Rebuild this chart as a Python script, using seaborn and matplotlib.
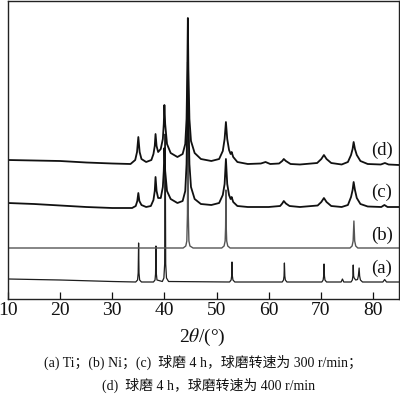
import matplotlib
matplotlib.use("Agg")
import matplotlib.pyplot as plt
import seaborn as sns
import pandas as pd

# ---- data (intensity in arbitrary units) ----
a_x = [10, 20, 30, 34.5, 34.85, 34.97, 35.05, 35.13, 35.25, 35.6, 37.9, 38.2, 38.3, 38.38, 38.46, 38.58,
       39.6, 39.9, 40.05, 40.15, 40.25, 40.4, 40.8, 52.5, 52.8, 52.9, 52.97, 53.04, 53.15, 53.5,
       62.6, 62.85, 62.95, 63.02, 63.1, 63.2, 63.5, 70.2, 70.45, 70.55, 70.62, 70.7, 70.8, 71.1,
       73.9, 74.15, 74.4, 75.8, 76.05, 76.15, 76.22, 76.3, 76.4, 76.7, 77.05, 77.2, 77.35, 77.45,
       77.6, 78.0, 81.9, 82.25, 82.6, 85]
a_y = [20, 19, 17.5, 17, 19, 26, 56, 26, 19, 17, 17, 19, 25, 53, 25, 19,
       17.5, 21, 35, 165, 35, 21, 17.5, 17, 19, 23, 37, 23, 19, 17,
       17, 19, 23, 36, 23, 19, 17, 17, 19, 23, 35, 23, 19, 17,
       17, 20, 17, 17, 19, 23, 34, 23, 21, 19, 19.5, 23, 31, 23,
       19, 17, 17, 19.5, 17, 17]

b_x = [10, 43.6, 44.1, 44.3, 44.42, 44.5, 44.58, 44.7, 44.9, 45.5, 51.0, 51.45, 51.65, 51.74, 51.8,
       51.86, 51.95, 52.15, 52.6, 75.6, 76.0, 76.2, 76.35, 76.5, 76.7, 77.1, 85]
b_y = [51, 51, 53, 58, 85, 184, 85, 58, 53, 51, 51, 53, 58, 72, 109,
       72, 58, 53, 51, 51, 53, 58, 78, 58, 53, 51, 51]

c_x = [10, 15, 20, 25, 30, 33.8, 34.5, 34.8, 35.0, 35.2, 35.6, 36.5, 37.4, 37.9, 38.15, 38.3, 38.5,
       38.8, 39.3, 39.7, 39.88, 40.0, 40.15, 40.5, 41.2, 42.5, 43.5, 44.0, 44.25, 44.4, 44.5, 44.6,
       44.8, 45.1, 45.8, 47, 49, 50.5, 51.2, 51.55, 51.8, 52.05, 52.4, 52.7, 52.9, 53.2, 54, 56, 60,
       62.2, 62.6, 62.9, 63.3, 64, 66, 69.4, 70.1, 70.6, 71.1, 72, 74, 75.2, 75.8, 76.1, 76.3, 76.55,
       76.9, 77.6, 79, 81.6, 82.2, 82.8, 85]
c_y = [96, 95, 93.5, 92, 91, 91, 93, 98, 106, 98, 94, 92, 93, 99, 108, 122, 108,
       101, 101, 112, 128, 151, 128, 108, 100, 96, 98, 108, 135, 185, 237, 185,
       135, 112, 100, 95, 94, 96, 104, 115, 140, 115, 104, 100, 102, 97, 93, 92, 92,
       93, 95.5, 98, 95.5, 93, 92, 93.5, 97, 101, 97, 93, 92, 94, 102, 109, 117, 109,
       101, 95, 92.5, 92, 94, 92, 92]

d_x = [10, 15, 20, 25, 30, 33.5, 34.4, 34.75, 35.0, 35.25, 35.6, 36.5, 37.5, 37.9, 38.15, 38.3, 38.5,
       38.8, 39.3, 39.7, 39.88, 40.0, 40.15, 40.5, 41.2, 42.5, 43.5, 44.0, 44.25, 44.4, 44.5, 44.6,
       44.8, 45.1, 45.8, 47, 49, 50.5, 51.2, 51.55, 51.8, 52.05, 52.4, 52.7, 52.9, 53.2, 54, 56, 58.5,
       59.4, 60.3, 62, 62.6, 62.9, 63.3, 64.2, 66, 69.3, 70.1, 70.6, 71.1, 72, 74, 75.2, 75.8, 76.1,
       76.3, 76.55, 76.9, 77.6, 79, 81.5, 82.3, 83, 85]
d_y = [139, 138.5, 138, 136.5, 135.5, 135, 139, 147, 162, 147, 140, 137, 139, 145, 153, 165, 153,
       147, 150, 160, 175, 194, 175, 155, 146, 142, 145, 155, 180, 230, 281, 230,
       180, 158, 146, 140, 138, 140, 148, 160, 177, 160, 149, 145, 147, 142, 137, 135, 135.5,
       137, 135, 135.5, 138, 140, 138, 135, 134.5, 136, 140, 144, 140, 136, 134.5, 137, 144, 150,
       157, 150, 144, 138, 135, 134.5, 136, 134.5, 134]

curve_labels = ["(a)", "(b)", "(c)", "(d)"]
label_y = [31, 64, 107, 149]
x_ticks = [10, 20, 30, 40, 50, 60, 70, 80]
x_label = "2$\\mathit{\\theta}$/(°)"
caption_1 = "(a) Ti；(b) Ni；(c)  球磨 4 h，球磨转速为 300 r/min；"
caption_2 = "(d)  球磨 4 h，球磨转速为 400 r/min"

# ---- style ----
sns.set_style("ticks")
plt.rcParams["font.family"] = ["Liberation Serif", "Noto Sans CJK SC", "DejaVu Sans"]
plt.rcParams["mathtext.fontset"] = "stix"

fig = plt.figure(figsize=(4.0, 3.97), dpi=100)
ax = fig.add_axes([8 / 400, 98 / 397, 391 / 400, 298 / 397])

series = [
    (a_x, a_y, "#1e1e1e", 0.9),
    (b_x, b_y, "#555555", 1.0),
    (c_x, c_y, "#111111", 1.3),
    (d_x, d_y, "#111111", 1.3),
]
for xs, ys, col, lw in series:
    df = pd.DataFrame({"x": xs, "y": ys})
    sns.lineplot(data=df, x="x", y="y", ax=ax, color=col, linewidth=lw, estimator=None, sort=False)

for lab, ly in zip(curve_labels, label_y):
    ax.text(81.7, ly, lab, ha="center", va="center", fontsize=13.5, color="#111111")

ax.set_xlim(10, 85)
ax.set_ylim(0, 298)
ax.set_xticks(x_ticks)
ax.set_xticklabels([str(t) for t in x_ticks])
ax.set_yticks([])
ax.set_xlabel("")
ax.set_ylabel("")
ax.tick_params(axis="x", direction="in", length=5, width=0.9, labelsize=14, pad=2, colors="#111111")
for sp in ax.spines.values():
    sp.set_visible(True)
    sp.set_linewidth(1.0)
    sp.set_color("#222222")

fig.text(202 / 400, 1 - 337 / 397, x_label, ha="center", va="center", fontsize=14, color="#111111")
fig.text(203 / 400, 1 - 362 / 397, caption_1, ha="center", va="center", fontsize=10, color="#111111")
fig.text(209 / 400, 1 - 385 / 397, caption_2, ha="center", va="center", fontsize=10, color="#111111")

fig.savefig("out.png", dpi=100)
